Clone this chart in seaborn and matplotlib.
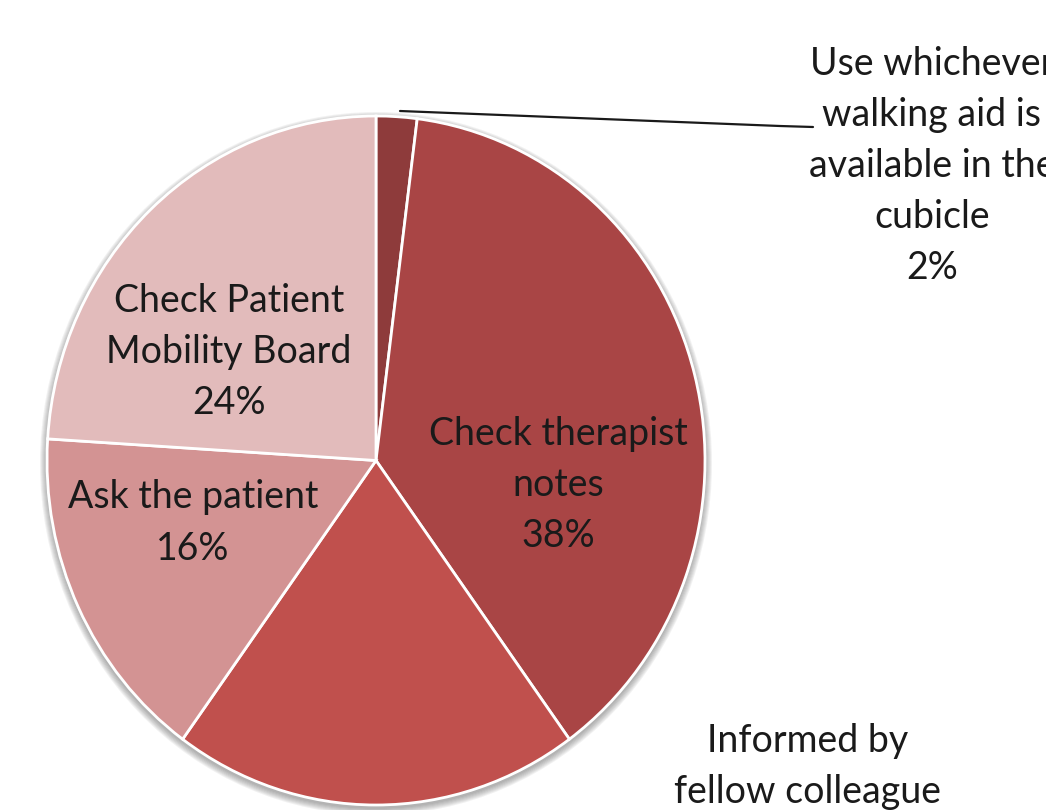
import matplotlib
matplotlib.use("Agg")
import matplotlib.pyplot as plt
import seaborn as sns
from matplotlib.patches import Ellipse
from matplotlib.lines import Line2D

# ---- data ----
categories = ["Use whichever\nwalking aid is\navailable in the\ncubicle",
              "Check therapist\nnotes",
              "Informed by\nfellow colleague",
              "Ask the patient",
              "Check Patient\nMobility Board"]
shares = [2, 38, 20, 16, 24]
colors = ["#8E3B3B", "#A94545", "#C0504D", "#D39393", "#E2BBBB"]

sns.set_theme(style="white")
plt.rcParams['font.family'] = ['Lato', 'DejaVu Sans']

W, H = 1046, 810
fig = plt.figure(figsize=(W / 100, H / 100), dpi=100)
fig.patch.set_facecolor("white")

cx, cy, rx, ry = 376, 460.5, 329, 344.5
ax = fig.add_axes([(cx - rx) / W, 1 - (cy + ry) / H, 2 * rx / W, 2 * ry / H])

pal = sns.color_palette(colors)
wedges, _ = ax.pie(shares, colors=pal, startangle=90, counterclock=False,
                   wedgeprops=dict(edgecolor="white", linewidth=2.0))
for w in wedges:
    w.set_clip_on(False)
    w.set_zorder(3)
ax.set_aspect("auto")
ax.set_xlim(-1, 1)
ax.set_ylim(-1, 1)
ax.axis("off")

# soft shadow around the pie
for k in range(1, 8):
    e = Ellipse((0.0, -3 / ry), 2 * (1 + k / rx), 2 * (1 + k / ry),
                facecolor="#6a6a6a", edgecolor="none", alpha=0.09,
                zorder=1, clip_on=False)
    ax.add_patch(e)

# ---- labels (pixel layout) ----
def fx(px):
    return px / W

def fy(py):
    return 1 - py / H

label_pos = [(932, 166), (558, 485), (808, 792), (193, 523), (229, 352)]
fs = 27
for name, s, (px, py) in zip(categories, shares, label_pos):
    fig.text(fx(px), fy(py), f"{name}\n{s}%", ha="center", va="center",
             fontsize=fs, color="#1a1a1a", linespacing=1.52, zorder=5)

# leader line for the small slice
fig.add_artist(Line2D([fx(400), fx(780), fx(813)], [fy(111), fy(126), fy(127)],
                      transform=fig.transFigure, color="#1a1a1a", linewidth=1.6))

fig.savefig("out.png", dpi=100, facecolor="white")
